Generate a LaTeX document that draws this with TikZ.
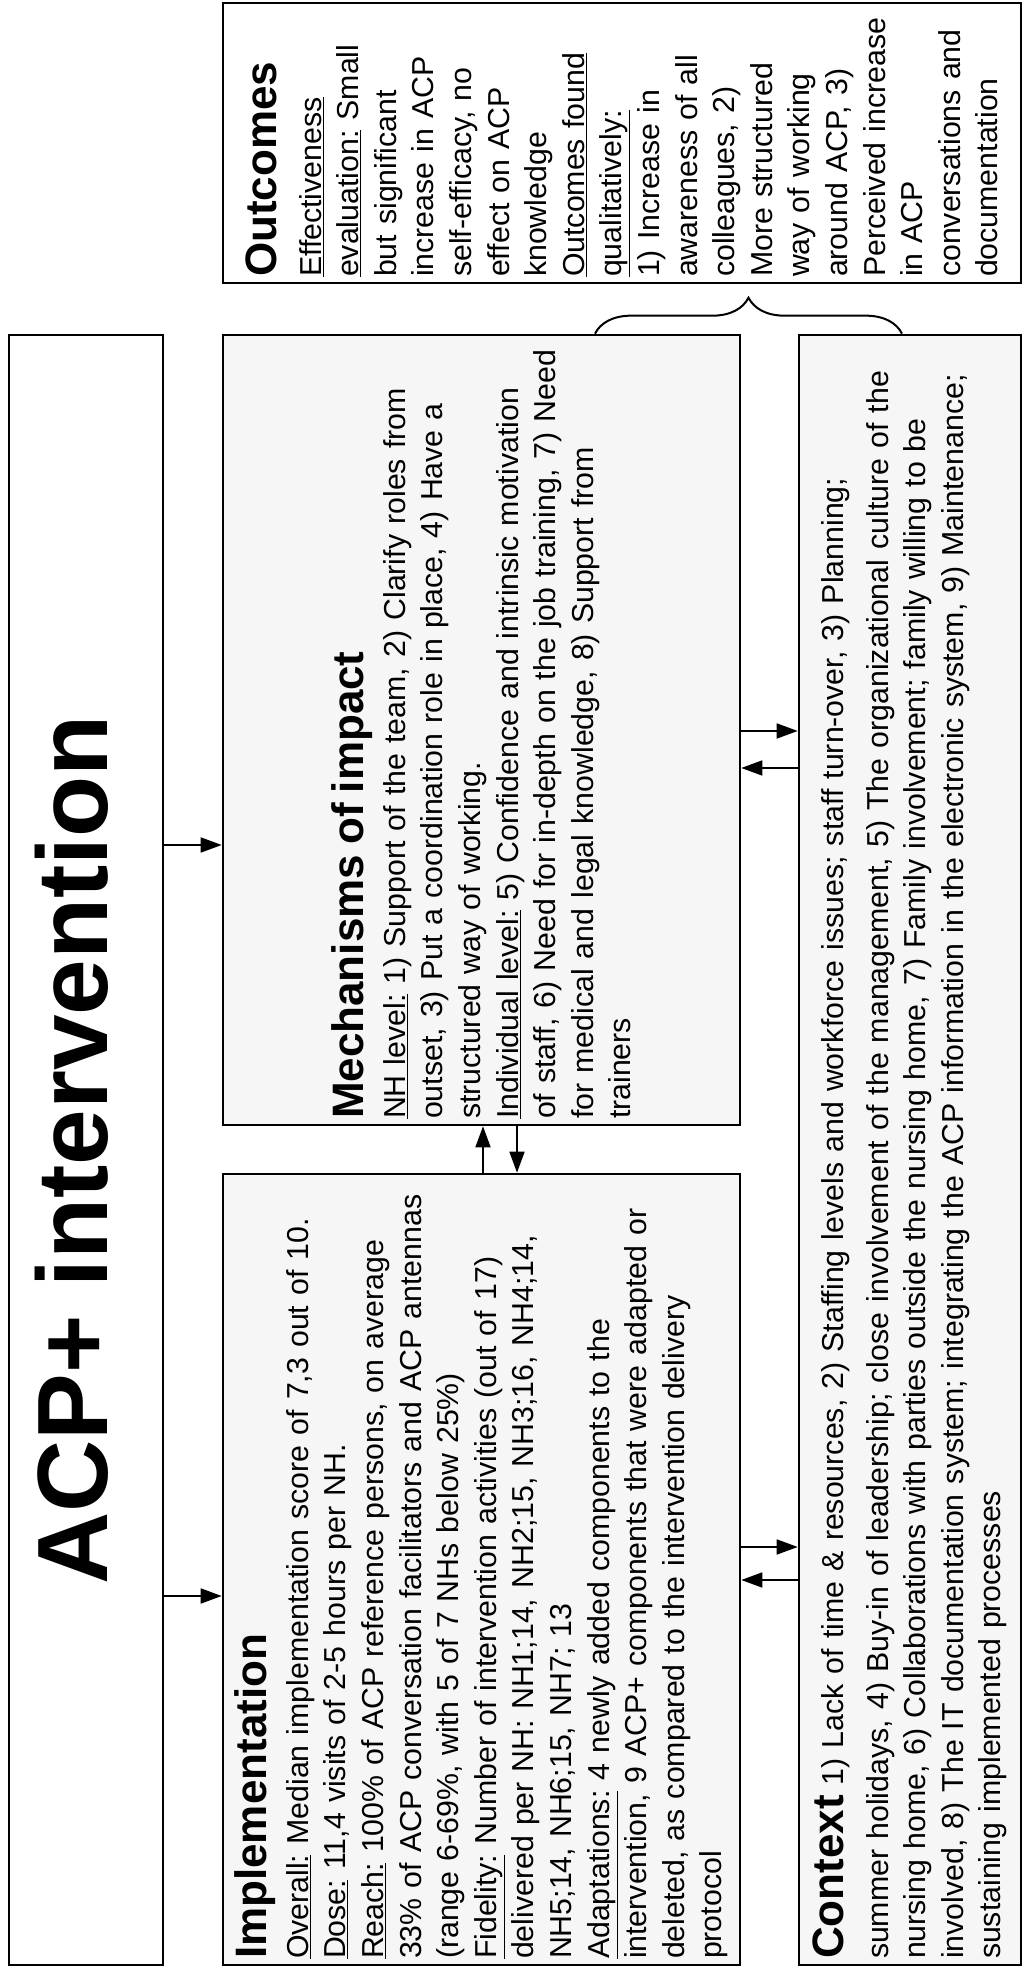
\documentclass[tikz,border=0pt]{standalone}
\usepackage{fontspec}
\setmainfont{Liberation Sans}
\usetikzlibrary{arrows.meta, decorations.pathreplacing}

\definecolor{boxgray}{HTML}{F6F6F6}
\newcommand{\boxtitle}[1]{{\fontsize{44}{37.6}\selectfont\bfseries #1}}
\hyphenpenalty=10000
\exhyphenpenalty=10000

\tikzset{
  box/.style={draw, line width=2.6pt, rotate=90, inner xsep=6pt, inner ysep=0pt,
    align=left, font=\fontsize{30.3}{37.6}\selectfont},
  shaded/.style={box, fill=boxgray},
  arr/.style={line width=1.7pt, -{Triangle[length=21pt, width=15pt]}},
  outbrace/.style={decorate, decoration={brace, amplitude=36pt}, line width=2pt}
}

\begin{document}
\begin{tikzpicture}[x=1pt, y=1pt]
  \useasboundingbox (0,0) rectangle (1024,1973);

  % boxes
  \node[box, minimum width=1630pt, minimum height=154pt, align=center,
        text height=72pt, text depth=30pt, font=\fontsize{100}{110}\selectfont\bfseries]
        (acp) at (86,823) {ACP+ intervention};

  \node[shaded, minimum width=790pt, minimum height=517pt, text width=778pt] (mech) at (481.5,1243) {%
    \boxtitle{Mechanisms of impact}\\[4pt]
    \underline{NH level:} 1) Support of the team, 2) Clarify roles from\\
    outset, 3) Put a coordination role in place, 4) Have a\\
    structured way of working.\\
    \underline{Individual level:} 5) Confidence and intrinsic motivation\\
    of staff, 6) Need for in-depth on the job training, 7) Need\\
    for medical and legal knowledge, 8) Support from\\
    trainers};

  \node[shaded, minimum width=791pt, minimum height=517pt, text width=779pt] (impl) at (481.5,403.5) {%
    \boxtitle{Implementation}\\[4pt]
    \underline{Overall:} Median implementation score of 7,3 out of 10.\\
    \underline{Dose:} 11,4 visits of 2-5 hours per NH.\\
    \underline{Reach:} 100\% of ACP reference persons, on average\\
    33\% of ACP conversation facilitators and ACP antennas\\
    (range 6-69\%, with 5 of 7 NHs below 25\%)\\
    \underline{Fidelity:} Number of intervention activities (out of 17)\\
    delivered per NH: NH1;14, NH2;15, NH3;16, NH4;14,\\
    NH5;14, NH6;15, NH7; 13\\
    \underline{Adaptations:} 4 newly added components to the\\
    intervention, 9 ACP+ components that were adapted or\\
    deleted, as compared to the intervention delivery\\
    protocol};

  \node[shaded, minimum width=1630pt, minimum height=222pt, text width=1618pt] (ctx) at (910,823) {%
    \boxtitle{Context} 1) Lack of time \& resources, 2) Staffing levels and workforce issues; staff turn-over, 3) Planning;\\[7pt]
    summer holidays, 4) Buy-in of leadership; close involvement of the management, 5) The organizational culture of the\\
    nursing home, 6) Collaborations with parties outside the nursing home, 7) Family involvement; family willing to be\\
    involved, 8) The IT documentation system; integrating the ACP information in the electronic system, 9) Maintenance;\\
    sustaining implemented processes};

  \node[box, minimum width=280pt, minimum height=798pt, text width=268pt] (outc) at (622,1830) {%
    \boxtitle{Outcomes}\\[7pt]
    \underline{Effectiveness}\\
    \underline{evaluation:} Small\\
    but significant\\
    increase in ACP\\
    self-efficacy, no\\
    effect on ACP\\
    knowledge\\
    \underline{Outcomes found}\\
    \underline{qualitatively:}\\
    1) Increase in\\
    awareness of all\\
    colleagues, 2)\\
    More structured\\
    way of working\\
    around ACP, 3)\\
    Perceived~increase\\
    in ACP\\
    conversations and\\
    documentation};

  % connectors
  \draw[arr] (acp.south |- 0,1128) -- (mech.north |- 0,1128);
  \draw[arr] (acp.south |- 0,377) -- (impl.north |- 0,377);
  \draw[arr] (impl.east -| 483,0) -- (mech.west -| 483,0);
  \draw[arr] (mech.west -| 517,0) -- (impl.east -| 517,0);
  \draw[arr] (mech.south |- 0,1242) -- (ctx.north |- 0,1242);
  \draw[arr] (ctx.north |- 0,1205) -- (mech.south |- 0,1205);
  \draw[arr] (impl.south |- 0,426) -- (ctx.north |- 0,426);
  \draw[arr] (ctx.north |- 0,393) -- (impl.south |- 0,393);
  \draw[outbrace] (mech.east -| 595,0) -- (ctx.east -| 902,0);
\end{tikzpicture}
\end{document}
